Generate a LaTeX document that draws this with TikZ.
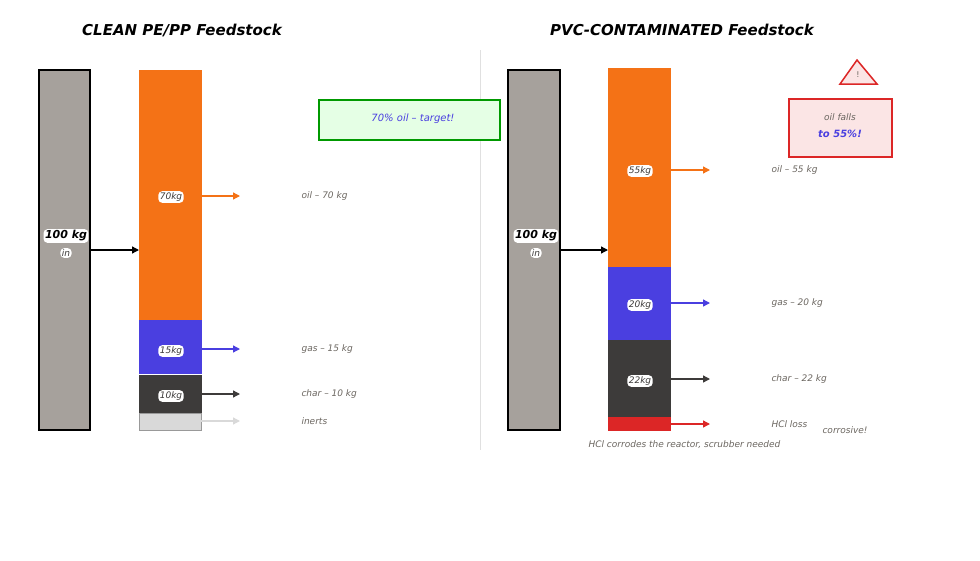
\documentclass[tikz,border=0pt]{standalone}
\usepackage{fontspec}
\setmainfont{DejaVu Sans}
\usetikzlibrary{arrows.meta}
\definecolor{oilc}{HTML}{F47216}
\definecolor{gasc}{HTML}{4A3FE0}
\definecolor{charc}{HTML}{3D3B3A}
\definecolor{feedc}{HTML}{A6A19C}
\definecolor{hclc}{HTML}{DC2626}
\definecolor{txtc}{HTML}{6B6660}
\begin{document}
\begin{tikzpicture}[x=1pt,y=-1pt,
    seg/.style={draw=#1,fill=#1,line width=1pt},
    feed/.style={draw=black,fill=feedc,line width=2pt},
    flow/.style={-{Triangle[length=7pt,width=7pt]},line width=1.3pt,draw=#1},
    val/.style={fill=white,rounded corners=4pt,inner sep=1.5pt,font=\itshape\fontsize{9}{9}\selectfont,text=charc},
    outlbl/.style={anchor=west,font=\itshape\fontsize{9}{9}\selectfont,text=txtc},
    ttl/.style={font=\bfseries\itshape\fontsize{15}{15}\selectfont}]
  \useasboundingbox (0,0) rectangle (980,560);
  \draw[black!12,line width=1pt] (480,50) -- (480,450);
  % clean feedstock
  \node[ttl] (tclean) at (182,30) {CLEAN PE/PP Feedstock};
  \draw[feed] (39,70) rectangle (90,430);
  \coordinate (inA) at (90,250);
  \draw[seg=oilc] (139,70) rectangle (201,320);
  \draw[seg=gasc] (139,320) rectangle (201,373);
  \draw[seg=charc] (139,375) rectangle (201,412);
  \draw[draw=black!40,fill=black!15] (139,413) rectangle (201,430);
  \coordinate (barA) at (139,250);
  \draw[flow=black] (inA) -- (barA);
  \node[val,font=\itshape\bfseries\fontsize{11}{11}\selectfont,text=black] (kgA) at (66,236) {100 kg};
  \node[val] (inlA) at (66,253) {in};
  \node[val] (oA) at (171,197) {70kg};
  \node[val] (gA) at (171,351) {15kg};
  \node[val] (cA) at (171,396) {10kg};
  \foreach \y/\c/\t [count=\i] in {196/oilc/oil -- 70 kg,349/gasc/gas -- 15 kg,394/charc/char -- 10 kg,421/black!15/inerts/loss -- 5 kg}{
    \coordinate (sA\i) at (201,\y);
    \coordinate (eA\i) at (240,\y);
    \draw[flow=\c] (sA\i) -- (eA\i);
    \node[outlbl] (lA\i) at (298,\y) {\t};
  }
  \node[draw=green!60!black,fill=green!10,line width=1.5pt,minimum width=181pt,minimum height=40pt] (target) at (409.5,120) {};
  \node[font=\itshape\fontsize{10}{10}\selectfont,text=gasc] (targett) at (413,119) {70\% oil -- target!};
  % pvc contaminated feedstock
  \node[ttl] (tpvc) at (682,30) {PVC-CONTAMINATED Feedstock};
  \draw[feed] (508,70) rectangle (560,430);
  \coordinate (inB) at (560,250);
  \draw[seg=oilc] (608,68) rectangle (670,267);
  \draw[seg=gasc] (608,267) rectangle (670,340);
  \draw[seg=charc] (608,340) rectangle (670,417);
  \draw[seg=hclc] (608,417) rectangle (670,430);
  \coordinate (barB) at (608,250);
  \draw[flow=black] (inB) -- (barB);
  \node[val,font=\itshape\bfseries\fontsize{11}{11}\selectfont,text=black] (kgB) at (536,236) {100 kg};
  \node[val] (inlB) at (536,253) {in};
  \node[val] (oB) at (640,171) {55kg};
  \node[val] (gB) at (640,305) {20kg};
  \node[val] (cB) at (640,381) {22kg};
  \foreach \y/\c/\t [count=\i] in {170/oilc/oil -- 55 kg,303/gasc/gas -- 20 kg,379/charc/char -- 22 kg,424/hclc/HCl loss}{
    \coordinate (sB\i) at (670,\y);
    \coordinate (eB\i) at (710,\y);
    \draw[flow=\c] (sB\i) -- (eB\i);
    \node[outlbl] (lB\i) at (768,\y) {\t};
  }
  \node[outlbl] (corr) at (819,430) {corrosive!};
  \node[outlbl] (scrub) at (585,445) {HCl corrodes the reactor, scrubber needed};
  \node[draw=hclc,fill=hclc!12,line width=1.5pt,minimum width=103pt,minimum height=58pt] (warnbox) at (840.5,128) {};
  \node[font=\itshape\fontsize{9}{9}\selectfont,text=txtc] (warn1) at (840,117) {oil falls};
  \node[font=\itshape\bfseries\fontsize{10}{10}\selectfont,text=gasc] (warn2) at (840,134) {to 55\%!};
  \draw[draw=hclc,fill=hclc!12,line width=1.5pt] (857,60) -- (877,84) -- (840,84) -- cycle;
  \node[font=\fontsize{8}{8}\selectfont,text=txtc] (bang) at (858,75) {!};
\end{tikzpicture}
\end{document}
